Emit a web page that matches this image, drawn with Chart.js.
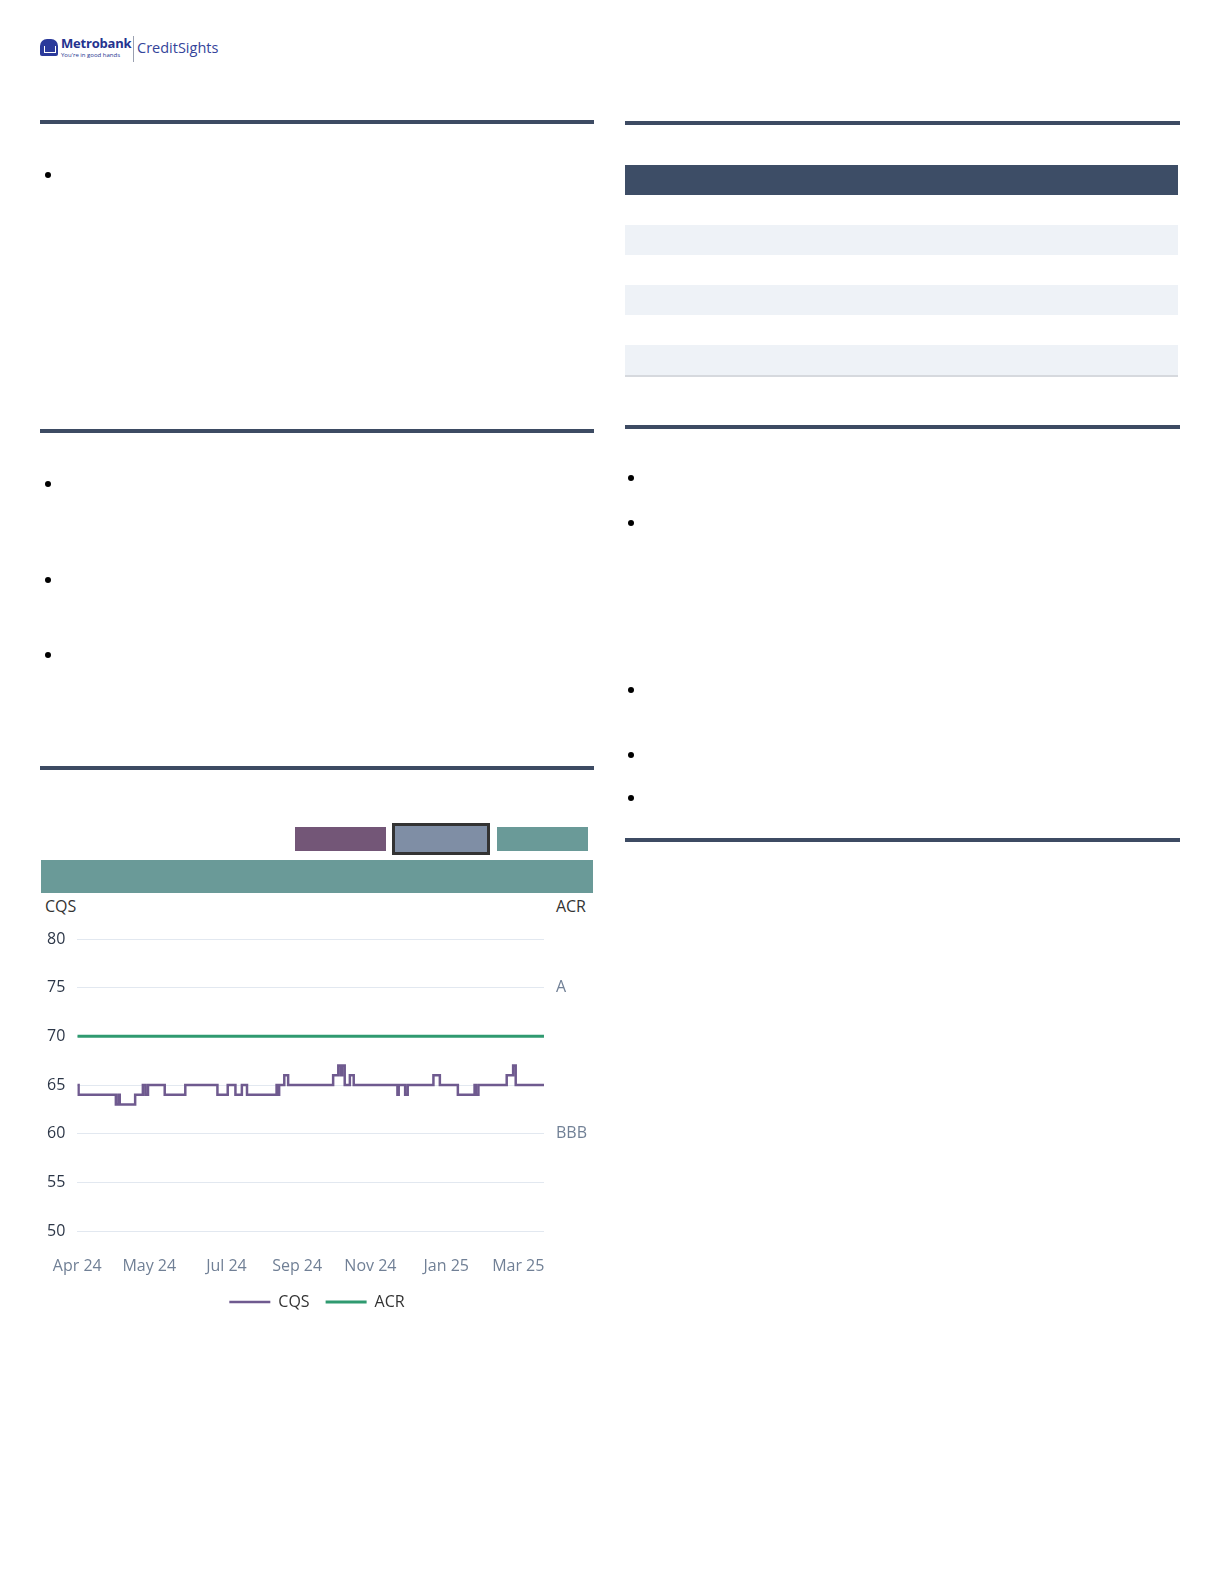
<!DOCTYPE html>
<html>
<head>
<meta charset="utf-8">
<title>CQS vs ACR</title>
<script src="https://cdn.jsdelivr.net/npm/chart.js@4.4.1/dist/chart.umd.min.js"></script>
<style>
    body { margin: 0; width: 1225px; height: 1585px; background: #fff; position: relative; overflow: hidden; font-family: 'Open Sans', sans-serif; }
    .abs { position: absolute; }
    .rule { position: absolute; height: 4px; background: #3d4b63; }
    .dot { position: absolute; width: 6px; height: 6px; border-radius: 50%; background: #000; }
    .stripe { position: absolute; left: 625px; width: 553px; height: 30px; background: #eef2f7; }
    .btn { position: absolute; box-sizing: border-box; }
    #axisTitles { position: absolute; left: 41px; top: 896px; width: 552px; display: flex; justify-content: space-between; box-sizing: border-box; padding: 0 7px 0 4px; font-size: 16px; line-height: 20px; color: #333; }
    #chartBox { position: absolute; left: 41px; top: 916px; width: 552px; height: 404px; }
</style>
</head>
<body>

<!-- logo -->
<div class="abs" style="left:40px;top:39px;width:18px;height:17px;background:#2b3a9b;border-radius:7px 7px 2px 2px;"></div>
<div class="abs" style="left:44px;top:46px;width:10px;height:6px;border:1px solid #fff;border-top:none;"></div>
<div class="abs" style="left:61px;top:34px;font-size:13px;font-weight:bold;color:#24338f;letter-spacing:-0.2px;">Metrobank</div>
<div class="abs" style="left:61px;top:51px;font-size:6px;color:#24338f;">You're in good hands</div>
<div class="abs" style="left:133px;top:36px;width:1px;height:26px;background:#9aa0b0;"></div>
<div class="abs" style="left:137px;top:38px;font-size:14.5px;color:#34449a;">CreditSights</div>

<!-- left column -->
<div class="rule" style="left:40px;top:120px;width:554px;"></div>
<div class="dot" style="left:45px;top:172px;"></div>
<div class="rule" style="left:40px;top:429px;width:554px;"></div>
<div class="dot" style="left:45px;top:481px;"></div>
<div class="dot" style="left:45px;top:577px;"></div>
<div class="dot" style="left:45px;top:652px;"></div>
<div class="rule" style="left:40px;top:766px;width:554px;"></div>

<!-- right column -->
<div class="rule" style="left:625px;top:121px;width:555px;"></div>
<div class="abs" style="left:625px;top:165px;width:553px;height:30px;background:#3d4d66;"></div>
<div class="stripe" style="top:225px;"></div>
<div class="stripe" style="top:285px;"></div>
<div class="stripe" style="top:345px;"></div>
<div class="abs" style="left:625px;top:375px;width:553px;height:2px;background:#d6d9de;"></div>
<div class="rule" style="left:625px;top:425px;width:555px;"></div>
<div class="dot" style="left:628px;top:475px;"></div>
<div class="dot" style="left:628px;top:520px;"></div>
<div class="dot" style="left:628px;top:687px;"></div>
<div class="dot" style="left:628px;top:752px;"></div>
<div class="dot" style="left:628px;top:795px;"></div>
<div class="rule" style="left:625px;top:838px;width:555px;"></div>

<!-- chart header -->
<div class="btn" style="left:295px;top:827px;width:91px;height:24px;background:#735677;"></div>
<div class="btn" style="left:392px;top:823px;width:98px;height:32px;background:#7f8ea5;border:3px solid #333;"></div>
<div class="btn" style="left:497px;top:827px;width:91px;height:24px;background:#6a9a98;"></div>
<div class="abs" style="left:41px;top:860px;width:552px;height:33px;background:#6a9a98;"></div>

<div id="axisTitles"><span>CQS</span><span>ACR</span></div>
<div id="chartBox"><canvas id="cqsChart"></canvas></div>

<script>
// --- data ---
const startDate = '2024-04-01';

const cqsDates = [
    '2024-04-01', '2024-04-02', '2024-05-01', '2024-05-03', '2024-05-04', '2024-05-16',
    '2024-05-22', '2024-05-24', '2024-05-26', '2024-06-08', '2024-06-24', '2024-07-19',
    '2024-07-27', '2024-08-02', '2024-08-07', '2024-08-11', '2024-09-03', '2024-09-04',
    '2024-09-05', '2024-09-09', '2024-09-12', '2024-10-17', '2024-10-21', '2024-10-23',
    '2024-10-24', '2024-10-26', '2024-10-30', '2024-11-02', '2024-12-06', '2024-12-07',
    '2024-12-12', '2024-12-14', '2025-01-03', '2025-01-08', '2025-01-22', '2025-02-04',
    '2025-02-05', '2025-02-07', '2025-03-01', '2025-03-06', '2025-03-08', '2025-03-30'
];
const cqsValues = [
    65, 64, 63, 64, 63, 64,
    65, 64, 65, 64, 65, 64,
    65, 64, 65, 64, 65, 64,
    65, 66, 65, 66, 67, 66,
    67, 65, 66, 65, 64, 65,
    64, 65, 66, 65, 64, 65,
    64, 65, 66, 67, 65, 65
];

const acrDates = ['2024-04-01', '2025-03-30'];
const acrValues = [70, 70];

const tickDates = ['2024-04-01', '2024-05-27', '2024-07-26', '2024-09-19', '2024-11-15', '2025-01-13', '2025-03-10'];
const tickLabels = ['Apr 24', 'May 24', 'Jul 24', 'Sep 24', 'Nov 24', 'Jan 25', 'Mar 25'];

const ratingValues = [75, 60];
const ratingLabels = ['A', 'BBB'];

// days since start, used as x value
function dayNum(s) {
    return Math.round((Date.parse(s) - Date.parse(startDate)) / 86400000);
}

// Chart.js reserves the tick padding twice; keep it only once
function trimWidth(scale) {
    scale.width -= scale.options.ticks.padding;
}

Chart.defaults.font.family = "'Open Sans', sans-serif";
Chart.defaults.font.size = 16;

const ctx = document.getElementById('cqsChart').getContext('2d');
new Chart(ctx, {
    type: 'line',
    data: {
        datasets: [
            {
                label: 'CQS',
                data: cqsDates.map((d, i) => ({ x: dayNum(d), y: cqsValues[i] })),
                borderColor: '#6f5a8f',
                backgroundColor: '#6f5a8f',
                borderWidth: 2.5,
                stepped: true,
                pointRadius: 0,
                yAxisID: 'y'
            },
            {
                label: 'ACR',
                data: acrDates.map((d, i) => ({ x: dayNum(d), y: acrValues[i] })),
                borderColor: '#2f9a70',
                backgroundColor: '#2f9a70',
                borderWidth: 3,
                pointRadius: 0,
                yAxisID: 'y2'
            }
        ]
    },
    options: {
        animation: false,
        responsive: true,
        maintainAspectRatio: false,
        layout: { padding: { top: 23, left: 6, right: 6 } },
        plugins: {
            legend: {
                position: 'bottom',
                labels: {
                    usePointStyle: true,
                    pointStyle: 'line',
                    pointStyleWidth: 41,
                    boxWidth: 41,
                    padding: 16,
                    color: '#333',
                    font: { size: 16 }
                }
            },
            tooltip: { enabled: false }
        },
        scales: {
            x: {
                type: 'linear',
                min: 0,
                max: dayNum(cqsDates[cqsDates.length - 1]),
                grid: { display: false, drawTicks: false },
                border: { display: false },
                afterBuildTicks: scale => {
                    scale.ticks = tickDates.map(d => ({ value: dayNum(d) }));
                },
                // let the end labels hang over, like the original
                afterFit: scale => {
                    scale.height = 47;
                    scale.paddingLeft = 0;
                    scale.paddingRight = 0;
                },
                ticks: {
                    autoSkip: false,
                    maxRotation: 0,
                    padding: 26,
                    color: '#718096',
                    callback: (v, i) => tickLabels[i]
                }
            },
            y: {
                position: 'left',
                min: 50,
                max: 80,
                afterFit: trimWidth,
                ticks: { stepSize: 5, color: '#2d3748', padding: 12 },
                grid: { color: '#e2e8f0', drawTicks: false },
                border: { display: false }
            },
            y2: {
                position: 'right',
                min: 50,
                max: 80,
                afterFit: trimWidth,
                afterBuildTicks: scale => {
                    scale.ticks = ratingValues.map(v => ({ value: v }));
                },
                ticks: {
                    color: '#718096',
                    padding: 12,
                    callback: (v, i) => ratingLabels[i]
                },
                grid: { display: false, drawTicks: false },
                border: { display: false }
            }
        }
    }
});
</script>
</body>
</html>
